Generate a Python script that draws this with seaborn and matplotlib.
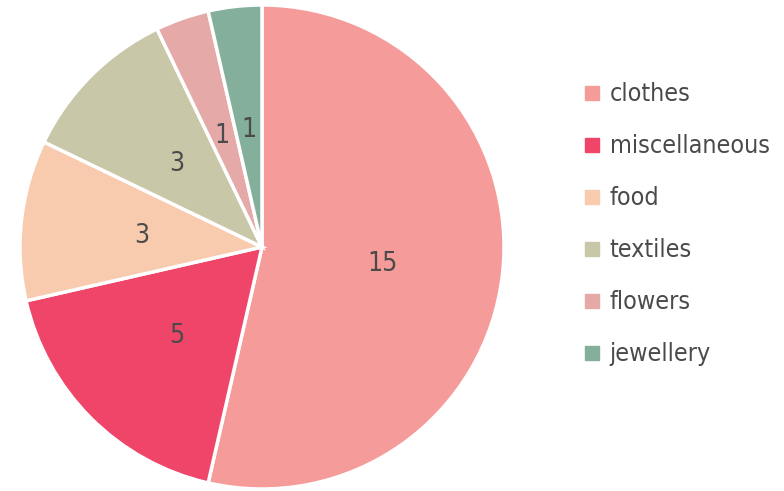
import matplotlib
matplotlib.use("Agg")
import matplotlib.pyplot as plt
import seaborn as sns
from matplotlib.lines import Line2D

categories = ["clothes", "miscellaneous", "food", "textiles", "flowers", "jewellery"]
counts = [15, 5, 3, 3, 1, 1]
colors = ["#F59B99", "#EF4568", "#F9CBAE", "#C8C8A9", "#E5A9A8", "#83AF9B"]

sns.set_theme(style="white")
plt.rcParams["font.family"] = ["DejaVu Sans"]
text_color = "#4a4a4a"

W, H = 784, 491
fig = plt.figure(figsize=(W / 100, H / 100), dpi=100)
cx, cy, r = 262, 247, 242
ax = fig.add_axes([(cx - r) / W, (H - cy - r) / H, 2 * r / W, 2 * r / H])

wedges, texts = ax.pie(
    counts,
    colors=colors,
    startangle=90,
    counterclock=False,
    labels=[str(c) for c in counts],
    labeldistance=0.5,
    wedgeprops=dict(edgecolor="white", linewidth=2.5),
    textprops=dict(color=text_color, fontsize=19, fontstretch="condensed",
                   ha="center", va="center_baseline"),
)
ax.set_xlim(-1.0, 1.0)
ax.set_ylim(-1.0, 1.0)
ax.set_aspect("equal")
ax.axis("off")

handles = [Line2D([0], [0], marker="s", linestyle="none", markersize=9.5,
                  markerfacecolor=c, markeredgecolor=c) for c in colors]
leg = fig.legend(
    handles, categories,
    loc="upper left",
    bbox_to_anchor=(561 / W, 1 - 60 / H),
    frameon=False,
    handlelength=0.7,
    handletextpad=0.35,
    labelspacing=1.12,
    prop=dict(size=18, stretch="condensed"),
)
for t in leg.get_texts():
    t.set_color(text_color)

fig.savefig("out.png", dpi=100, facecolor="white")
